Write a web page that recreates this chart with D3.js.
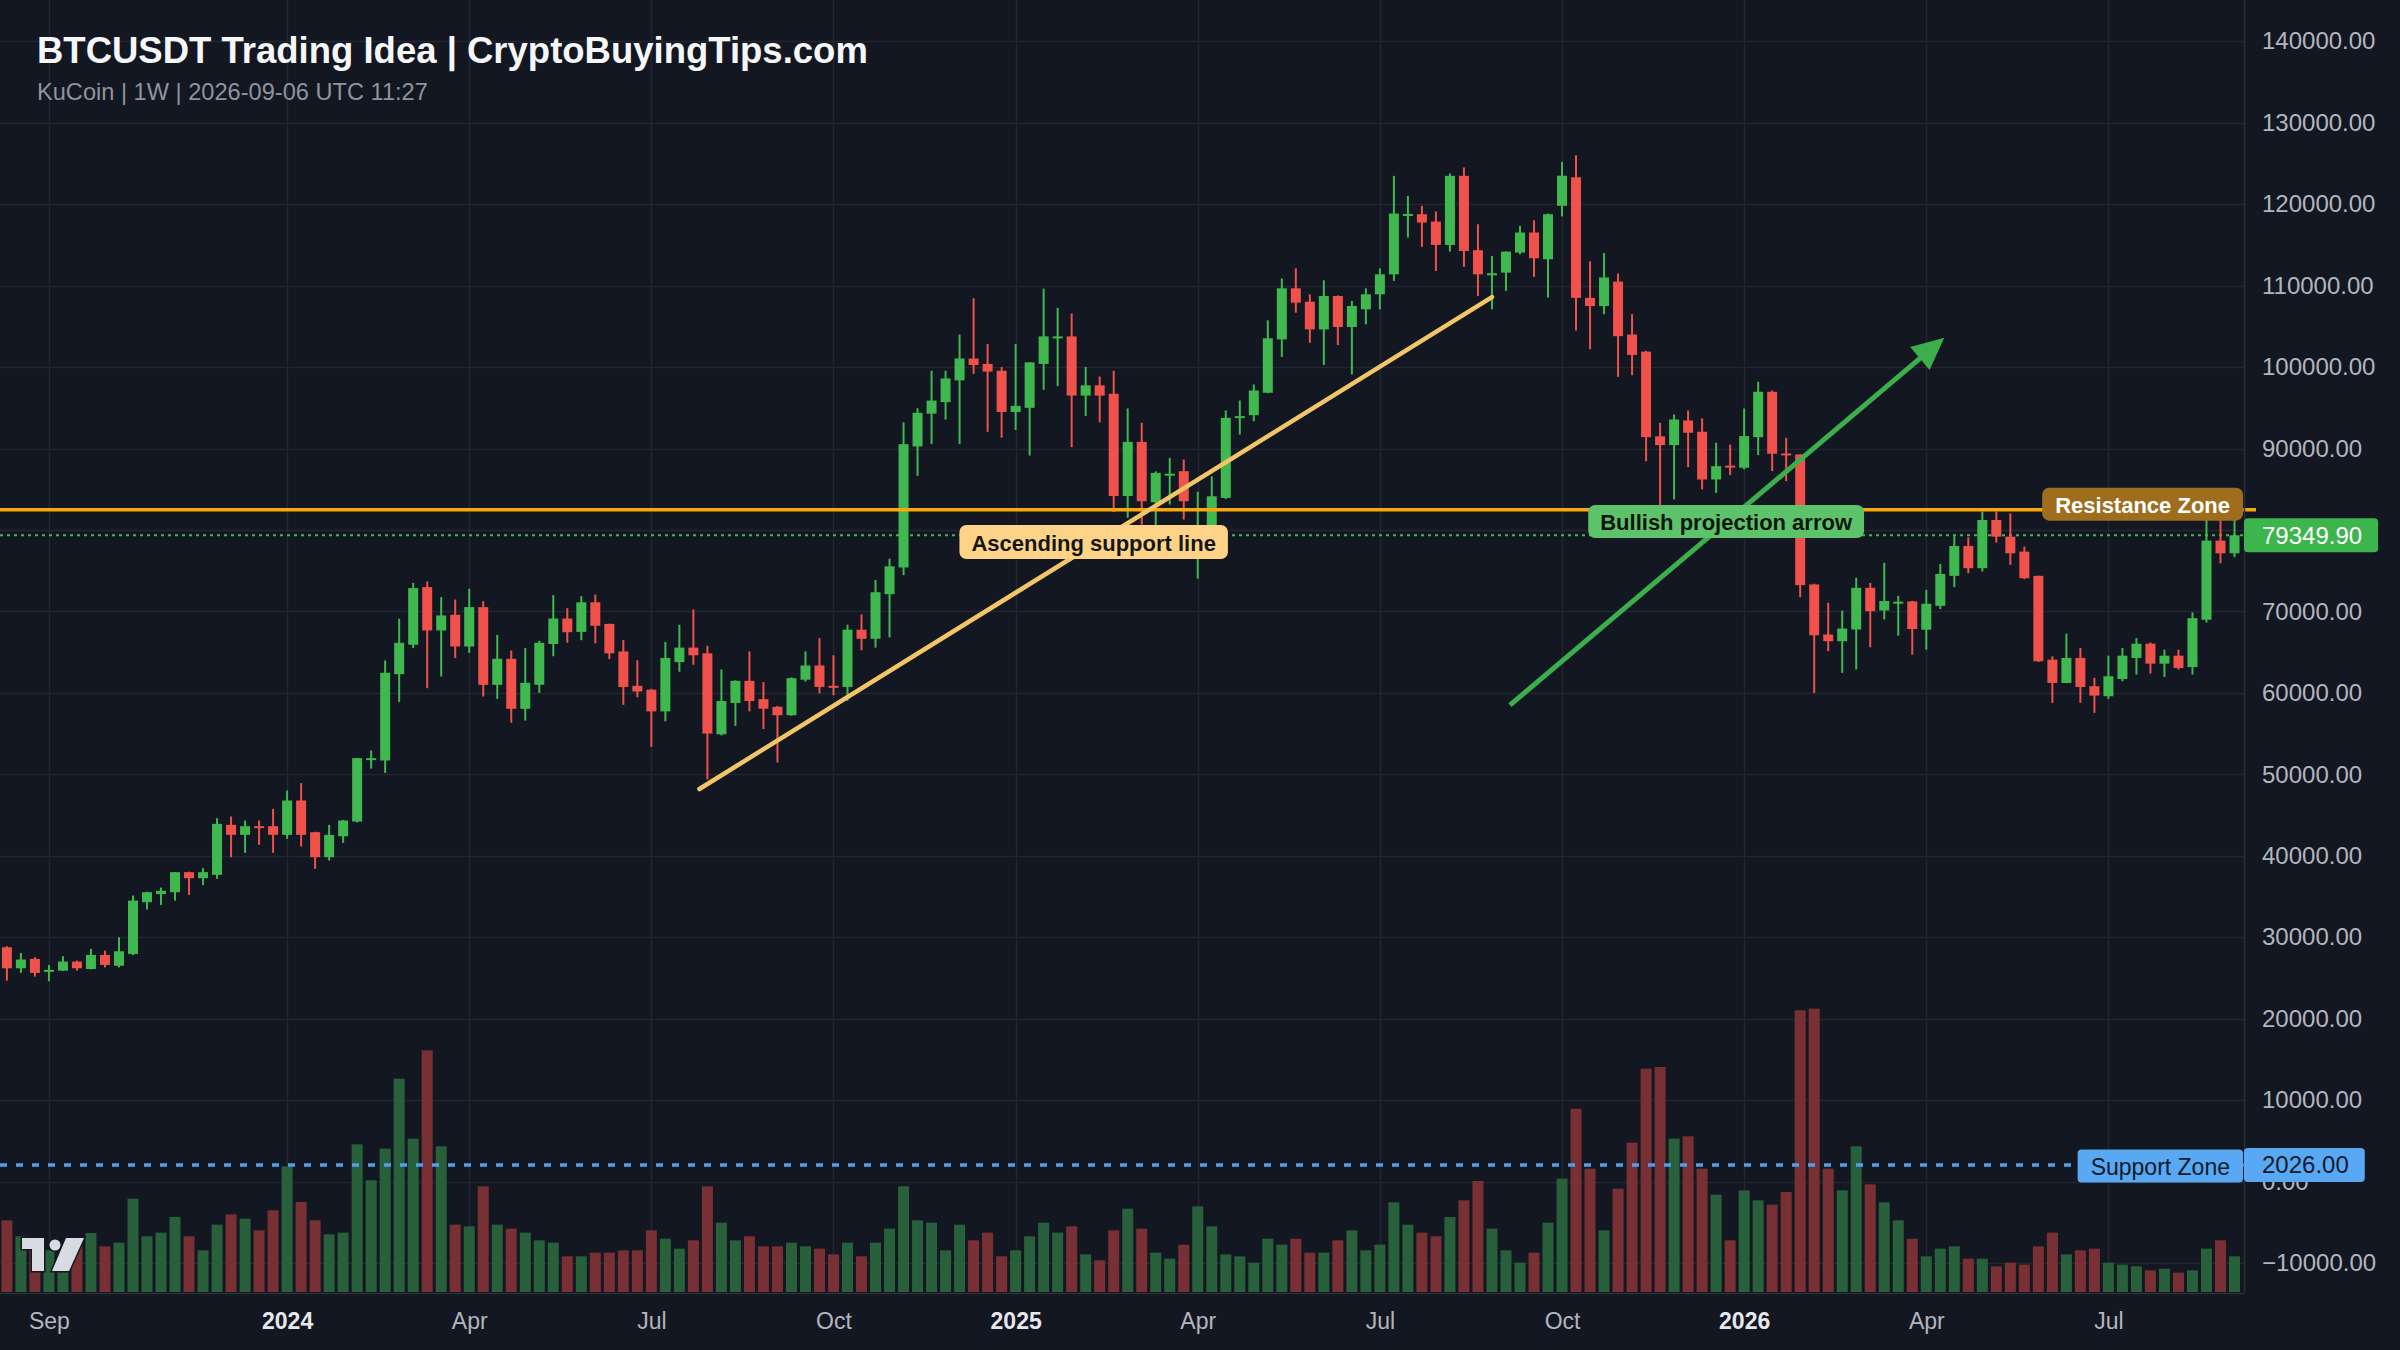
<!DOCTYPE html>
<html><head><meta charset="utf-8">
<script src="https://cdn.jsdelivr.net/npm/d3@7"></script>
<style>html,body{margin:0;padding:0;background:#131722;}svg{display:block;}</style>
</head><body><svg id="c" width="2400" height="1350"></svg>
<script>
// ---------------- DATA ----------------
const startDate = "2023-08-14"; // first weekly candle (Monday)
const open = [28770,26190,27340,25800,25900,27010,26100,27830,26500,27950,
34300,35300,35530,37990,37250,37660,43800,42570,43640,43640,
42570,46790,42900,39830,42400,44200,51800,51700,62300,65910,
72990,67670,69590,65700,70530,60990,64190,58050,61000,66000,
69130,67490,71120,68470,65090,60870,60400,57730,63780,65560,
64860,54920,58760,61480,59230,58290,57260,61620,63360,60870,
60730,67760,66640,72120,75400,90260,94290,95700,98370,101050,
100390,99550,94480,95000,100390,103600,103770,96500,97760,96730,
84170,90820,83400,86800,87220,77800,79500,83940,93900,94100,
96850,103400,109670,108030,104630,108730,104920,107100,108940,111390,
118700,118770,117870,115000,123480,114350,111400,111600,114060,116520,
113240,119800,123300,108500,107500,110500,104000,101900,91500,90420,
93450,92060,86200,87900,87640,91400,96970,89400,89270,73310,
67170,66350,67780,72900,70120,71000,71230,67760,70690,74370,
78040,75310,81230,79180,77350,74370,64080,61220,64290,60820,
59590,61710,64290,66040,63590,64570,63180,68980,78700,77140];
const high = [28900,28080,27550,26600,27670,27140,28570,28360,30000,35120,
35600,36100,38000,38050,38480,44620,44820,44330,44330,45760,
48020,48920,42950,43800,44400,52000,52930,63980,69100,73520,
73680,71760,71470,72780,71270,67130,65210,65500,66400,72000,
70400,71880,72080,68500,66500,64010,60500,66260,68370,70250,
65790,62880,61550,65090,61340,58400,61900,65090,66730,64620,
68370,69640,73860,76480,93220,94950,99550,99550,104000,108450,
102830,100010,102830,100600,109630,107280,106580,100010,98840,99550,
94930,93160,87200,88860,88650,84700,86600,94680,95900,97870,
105740,110900,112130,108940,110660,108800,108120,109670,112130,123480,
121020,119800,119100,123770,124510,117540,113650,114200,117340,118030,
118850,125200,126000,113000,114000,111500,106500,102000,93160,94190,
94680,93700,90710,90500,94920,98200,97130,91320,89300,73400,
71060,70110,74130,73510,75970,71920,71300,72650,75840,79270,
79100,82250,82250,82040,77960,74400,64490,67270,65510,61840,
64570,65510,66730,66200,65310,65310,69880,81230,81230,81230];
const low = [24680,25620,25170,24600,25850,25900,26050,26300,26300,27800,
33400,33970,34500,35200,36400,37170,39830,40360,41340,40360,
42080,41140,38390,39420,41590,44100,50700,50170,58870,65500,
60580,62020,64270,64920,59560,59270,56330,56600,60000,64500,
66150,66470,66100,64150,58530,59460,53370,56510,62590,63450,
49380,54780,55950,57730,55570,51450,57200,61390,59930,59700,
59000,65230,65560,66820,74460,86650,90540,93550,90540,99170,
92050,91340,92280,89140,97200,97670,90170,94010,93220,82200,
81500,80660,80460,83120,81280,74030,78000,83800,91720,93360,
96800,101230,106680,102990,100250,102710,99100,105250,107090,110580,
115900,114750,111800,114180,112300,108730,107090,109350,113850,111070,
108530,118500,104500,102200,106500,98800,99000,88450,83000,83750,
87720,84980,84570,86740,87430,89190,87230,86000,71750,60000,
65120,62460,62870,65610,69010,67020,64690,65310,70290,72980,
74690,74900,78450,75720,73960,63800,58780,61200,58780,57550,
59260,61430,62240,62370,61960,62860,62240,68650,75920,76650];
const close = [26190,27260,25620,26000,27010,26190,27830,26600,28280,34500,
35530,35700,37990,37250,37990,43920,42570,43640,43470,42570,
46790,42570,39830,42570,44330,51990,51990,62470,66150,72870,
67670,69510,65700,70530,60990,64190,58050,61240,66150,69130,
67450,71120,68240,64860,60730,60170,57730,64290,65560,64620,
55010,59000,61480,59000,58060,57260,61810,63360,60730,60730,
67760,66640,72360,75540,90540,94390,95890,98610,101050,100250,
99450,94480,95230,100580,103770,103770,96500,97760,96500,84170,
90820,83530,87010,86910,83530,79800,84140,93770,93980,97130,
103530,109670,107910,104630,108730,104920,107500,108940,111390,118850,
118800,117750,115000,123480,114260,111390,111520,114180,116520,113360,
118770,123500,108500,107500,111000,103800,101500,91400,90420,93570,
91940,86200,87840,87700,91530,96970,89360,89200,73230,67080,
66350,67900,72900,70030,71280,71200,67840,70940,74610,78040,
75310,81230,79180,77140,74080,63880,61220,64290,60730,59670,
62040,64570,66040,63590,64570,63060,69180,78700,77140,79349.9];
const volume = [2150,1670,1450,1250,1150,1350,1770,1370,1480,2800,
1670,1780,2250,1670,1250,2020,2330,2200,1850,2450,
3770,2700,2150,1730,1780,4430,3350,4300,6400,4600,
7250,4370,2020,1970,3170,2020,1900,1780,1550,1480,
1070,1070,1180,1180,1250,1250,1850,1600,1300,1550,
3170,2080,1550,1670,1370,1370,1480,1370,1300,1130,
1480,1070,1480,1900,3170,2150,2080,1250,2020,1550,
1780,1070,1250,1670,2080,1780,1970,1130,950,1850,
2500,1900,1180,1000,1420,2570,1970,1130,1070,880,
1600,1420,1600,1180,1180,1550,1850,1250,1420,2690,
2020,1780,1670,2250,2750,3330,1900,1250,880,1180,
2080,3400,5500,3700,1850,3100,4480,6700,6750,4600,
4670,3700,2920,1550,3050,2750,2620,3000,8450,8500,
3700,3050,4370,3230,2690,2150,1600,1070,1300,1370,
1000,1000,770,880,820,1370,1780,1130,1250,1300,
880,820,770,650,700,580,650,1300,1550,1070];

// price grid levels; the 80000 label is hidden behind the last-price tag in the reference
const priceTicks = [140000,130000,120000,110000,100000,90000,80000,70000,60000,50000,40000,30000,20000,10000,0,-10000];
const priceTickLabels = [140000,130000,120000,110000,100000,90000,70000,60000,50000,40000,30000,20000,10000,0,-10000];
const timeTickLabels = ["Sep","2024","Apr","Jul","Oct","2025","Apr","Jul","Oct","2026","Apr","Jul"];
const timeTickDates = ["2023-09-04","2024-01-01","2024-04-01","2024-07-01","2024-09-30","2024-12-30","2025-03-31","2025-06-30","2025-09-29","2025-12-29","2026-03-30","2026-06-29"];

const resistanceLevel = 82500;
const supportZoneLevel = 2026;
const lastPrice = 79349.9;
const supportLine = [{date:"2024-07-25", price:48200},{date:"2025-08-25", price:108600}];
const bullishArrow = [{date:"2025-09-03", price:58500},{date:"2026-04-08", price:103600}];
const labelAscending = {text:"Ascending support line", date:"2025-02-07", price:78520};
const labelBullish = {text:"Bullish projection arrow", date:"2025-12-20", price:81040};

const titleText = "BTCUSDT Trading Idea | CryptoBuyingTips.com";
const subtitleText = "KuCoin | 1W | 2026-09-06 UTC 11:27";

// ---------------- STYLE ----------------
const W = 2400, H = 1350;
const plotRight = 2244, plotBottom = 1293;
const BG = "#131722", GRID = "#222631", AXISTXT = "#b2b5be";
const UP = "#3fb94f", DOWN = "#f0514b", VUP = "#27603a", VDOWN = "#793035";
const FONT = "'Liberation Sans', Arial, Helvetica, sans-serif";

const svg = d3.select("#c").attr("font-family", FONT);
svg.append("rect").attr("width", W).attr("height", H).attr("fill", BG);

const dates = open.map((_, i) => d3.utcDay.offset(new Date(startDate), 7 * i));
const x = d3.scaleUtc().domain([dates[0], dates[dates.length - 1]]).range([6.9, 2234.5]);
const y = d3.scaleLinear().domain([-10000, 140000]).range([1263.05, 41.3]);
const yv = d3.scaleLinear().domain([0, 9000]).range([1292, 992]);
const P = s => new Date(s);

// grid
const grid = svg.append("g");
grid.selectAll("line.h").data(priceTicks).join("line")
  .attr("x1", 0).attr("x2", plotRight).attr("y1", d => Math.round(y(d)) + 0.5).attr("y2", d => Math.round(y(d)) + 0.5)
  .attr("stroke", GRID).attr("stroke-width", 1.5);
grid.selectAll("line.v").data(timeTickDates).join("line")
  .attr("x1", d => Math.round(x(P(d))) + 0.5).attr("x2", d => Math.round(x(P(d))) + 0.5)
  .attr("y1", 0).attr("y2", plotBottom).attr("stroke", GRID).attr("stroke-width", 1.5);

// title
svg.append("text").attr("x", 37).attr("y", 63).attr("font-size", 36.5).attr("font-weight", "bold")
  .attr("fill", "#f5f6f8").text(titleText);
svg.append("text").attr("x", 37).attr("y", 100).attr("font-size", 23.6)
  .attr("fill", "#8f939e").text(subtitleText);

// volume
const vol = svg.append("g");
vol.selectAll("rect").data(volume).join("rect")
  .attr("x", (d, i) => x(dates[i]) - 5.5).attr("width", 11)
  .attr("y", d => yv(d)).attr("height", d => yv(0) - yv(d))
  .attr("fill", (d, i) => close[i] >= open[i] ? VUP : VDOWN);

// support zone dotted line
svg.append("line").attr("x1", 0).attr("x2", plotRight).attr("y1", y(supportZoneLevel)).attr("y2", y(supportZoneLevel))
  .attr("stroke", "#4d9ff0").attr("stroke-width", 3.5).attr("stroke-dasharray", "7 9");

// last price dotted line
svg.append("line").attr("x1", 0).attr("x2", plotRight).attr("y1", y(lastPrice)).attr("y2", y(lastPrice))
  .attr("stroke", UP).attr("stroke-width", 2).attr("stroke-dasharray", "3 4");

// candles
const cg = svg.append("g");
const idx = d3.range(open.length);
cg.selectAll("line").data(idx).join("line")
  .attr("x1", i => x(dates[i])).attr("x2", i => x(dates[i]))
  .attr("y1", i => y(high[i])).attr("y2", i => y(low[i]))
  .attr("stroke", i => close[i] >= open[i] ? UP : DOWN).attr("stroke-width", 2);
cg.selectAll("rect").data(idx).join("rect")
  .attr("x", i => x(dates[i]) - 5).attr("width", 10)
  .attr("y", i => Math.min(y(open[i]), y(close[i])))
  .attr("height", i => Math.max(2, Math.abs(y(open[i]) - y(close[i]))))
  .attr("fill", i => close[i] >= open[i] ? UP : DOWN);

// resistance line
svg.append("line").attr("x1", 0).attr("x2", 2256).attr("y1", y(resistanceLevel)).attr("y2", y(resistanceLevel))
  .attr("stroke", "#f8a70c").attr("stroke-width", 3.5);

// ascending support line
svg.append("line")
  .attr("x1", x(P(supportLine[0].date))).attr("y1", y(supportLine[0].price))
  .attr("x2", x(P(supportLine[1].date))).attr("y2", y(supportLine[1].price))
  .attr("stroke", "#f2c566").attr("stroke-width", 4.5).attr("stroke-linecap", "round");

// bullish arrow
{
  const x1 = x(P(bullishArrow[0].date)), y1 = y(bullishArrow[0].price);
  const x2 = x(P(bullishArrow[1].date)), y2 = y(bullishArrow[1].price);
  const a = Math.atan2(y2 - y1, x2 - x1);
  const hl = 32, hw = 15;
  const bx = x2 - hl * Math.cos(a), by = y2 - hl * Math.sin(a);
  svg.append("line").attr("x1", x1).attr("y1", y1).attr("x2", bx + 4 * Math.cos(a)).attr("y2", by + 4 * Math.sin(a))
    .attr("stroke", "#3aaf4b").attr("stroke-width", 5);
  const pts = [[x2, y2],
    [bx + hw * Math.sin(a), by - hw * Math.cos(a)],
    [bx - hw * Math.sin(a), by + hw * Math.cos(a)]];
  svg.append("polygon").attr("points", pts.map(p => p.join(",")).join(" ")).attr("fill", "#3aaf4b");
}

// labels helper
function boxLabel(cx, cy, text, opts) {
  const g = svg.append("g");
  const r = g.append("rect");
  const t = g.append("text").attr("font-size", opts.size || 22).attr("font-weight", opts.weight || "bold")
    .attr("fill", opts.color).attr("dominant-baseline", "central").text(text);
  const tw = t.node().getComputedTextLength();
  const w = tw + 2 * opts.pad, h = opts.h || 34;
  let left = opts.right != null ? opts.right - w : cx - w / 2;
  r.attr("x", left).attr("y", cy - h / 2).attr("width", w).attr("height", h).attr("rx", opts.rx || 7).attr("fill", opts.fill);
  t.attr("x", left + opts.pad).attr("y", cy + 1);
  return g;
}

boxLabel(x(P(labelAscending.date)), y(labelAscending.price), labelAscending.text,
  {fill: "#fdd487", color: "#151515", pad: 12, h: 34});
boxLabel(x(P(labelBullish.date)), y(labelBullish.price), labelBullish.text,
  {fill: "#5dc36a", color: "#101510", pad: 12, h: 33});
boxLabel(0, y(resistanceLevel) - 5.5, "Resistance Zone",
  {fill: "#9e6e1e", color: "#ffffff", pad: 13, h: 33, right: plotRight - 1});
boxLabel(0, y(supportZoneLevel) + 1, "Support Zone",
  {fill: "#58a8f4", color: "#0f1a2a", pad: 13, h: 33, right: plotRight - 1, weight: "normal", size: 23, rx: 4});

// plot borders
svg.append("line").attr("x1", plotRight + 0.5).attr("x2", plotRight + 0.5).attr("y1", 0).attr("y2", plotBottom)
  .attr("stroke", "#2a2e39").attr("stroke-width", 1.5);
svg.append("line").attr("x1", 0).attr("x2", plotRight).attr("y1", plotBottom + 0.5).attr("y2", plotBottom + 0.5)
  .attr("stroke", "#2a2e39").attr("stroke-width", 1.5);

// y axis
const yAxis = d3.axisRight(y).tickValues(priceTickLabels).tickFormat(d3.format(".2f")).tickSize(0).tickPadding(18);
const ya = svg.append("g").attr("transform", `translate(${plotRight},0)`).call(yAxis);
ya.select(".domain").remove();
ya.selectAll("text").attr("font-size", 24).attr("fill", AXISTXT).attr("font-family", FONT);

// x axis
const xAxis = d3.axisBottom(x).tickValues(timeTickDates.map(P)).tickFormat((d, i) => timeTickLabels[i]).tickSize(0).tickPadding(20);
const xa = svg.append("g").attr("transform", `translate(0,${plotBottom})`).call(xAxis);
xa.select(".domain").remove();
xa.selectAll("text").attr("font-size", 23).attr("font-family", FONT)
  .attr("fill", (d, i) => /^\d{4}$/.test(timeTickLabels[i]) ? "#e6e8ee" : AXISTXT)
  .attr("font-weight", (d, i) => /^\d{4}$/.test(timeTickLabels[i]) ? "bold" : "normal");

// axis value labels
function axisTag(v, text, fill, color) {
  const g = svg.append("g");
  const r = g.append("rect");
  const t = g.append("text").attr("x", plotRight + 18).attr("y", y(v)).attr("dy", "0.35em")
    .attr("font-size", 24).attr("fill", color).text(text);
  const tw = t.node().getComputedTextLength();
  r.attr("x", plotRight).attr("y", y(v) - 17).attr("width", tw + 34).attr("height", 34).attr("rx", 4).attr("fill", fill);
}
axisTag(lastPrice, d3.format(".2f")(lastPrice), "#3cb54c", "#ffffff");
axisTag(supportZoneLevel, d3.format(".2f")(supportZoneLevel), "#58a8f4", "#0f1a2a");

// TradingView logo
{
  const g = svg.append("g").attr("transform", "translate(22,1238)");
  const st = {fill: "#d9dbe2", stroke: "#131722", "stroke-width": 3, "paint-order": "stroke"};
  const a1 = g.append("path").attr("d", "M0,0 H22 V33 H10 V11 H0 Z");
  const a2 = g.append("circle").attr("cx", 33).attr("cy", 7).attr("r", 5.5);
  const a3 = g.append("path").attr("d", "M44,0 H62 L47,33 H30 Z");
  [a1, a2, a3].forEach(s => Object.entries(st).forEach(([k, v]) => s.attr(k, v)));
}
</script>
</body></html>
